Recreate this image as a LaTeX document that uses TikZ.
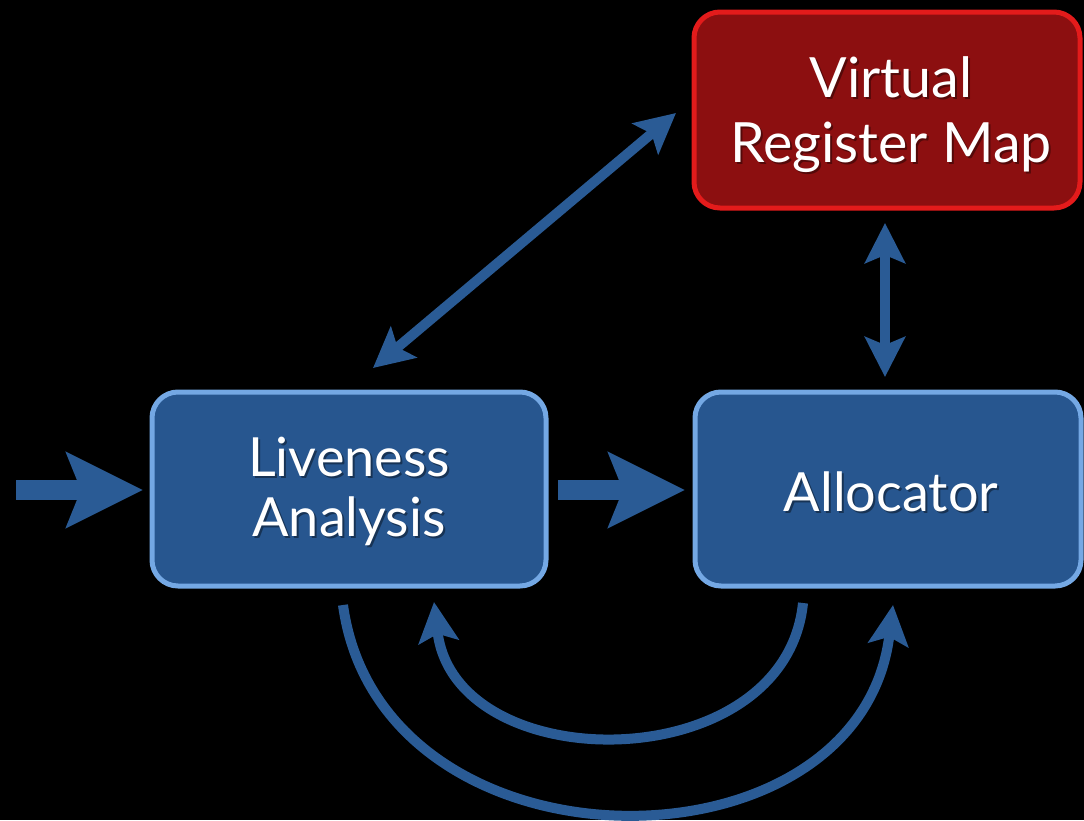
\documentclass[tikz,border=0pt]{standalone}
\usepackage{fontspec}
\setmainfont{Lato}
\usetikzlibrary{arrows.meta}
\definecolor{boxfill}{HTML}{27568F}
\definecolor{boxline}{HTML}{74A8E4}
\definecolor{redfill}{HTML}{8C0F10}
\definecolor{redline}{HTML}{E31B1B}
\definecolor{arrowc}{HTML}{2A5B95}
\tikzset{bt/.tip={Stealth[length=40pt, width=40pt, inset=8pt]}}
\begin{document}
\begin{tikzpicture}[x=1pt,y=-1pt,
  bluebox/.style={draw=boxline, fill=boxfill, line width=5pt, rounded corners=26pt,
    minimum height=194pt, inner sep=0pt},
  redbox/.style={draw=redline, fill=redfill, line width=5pt, rounded corners=26pt,
    minimum height=196pt, minimum width=386pt, inner sep=0pt},
  lbl/.style={text=white, align=center, inner sep=0pt, font=\fontsize{54}{60}\selectfont},
  lblshadow/.style={lbl, text=black, opacity=0.4},
  blockarrow/.style={draw=arrowc, line width=20pt, -{Stealth[length=76pt, width=74pt, inset=14pt]}},
  thinarrow/.style={draw=arrowc, line width=10pt}
]
\fill[black] (0,0) rectangle (1084,820);
\useasboundingbox (0,0) rectangle (1084,820);

% boxes
\node[bluebox, minimum width=394pt] (liv) at (349,489) {};
\node[bluebox, minimum width=386pt] (alloc) at (888,489) {};
\node[redbox] (vrm) at (887,110) {};

% labels with soft shadow
\node[lblshadow] (livsh) at (351,493) {Liveness\\Analysis};
\node[lbl] (livtxt) at (349,491) {Liveness\\Analysis};
\node[lblshadow] (allocsh) at (893,494) {Allocator};
\node[lbl] (alloctxt) at (891,492) {Allocator};
\node[lblshadow, font=\fontsize{55.5}{65}\selectfont] (vrmsh) at (893,117) {Virtual\\Register Map};
\node[lbl, font=\fontsize{55.5}{65}\selectfont] (vrmtxt) at (891,115) {Virtual\\Register Map};

% connector end points
\coordinate (inS) at (16,490);
\coordinate (livW) at (143,490);
\coordinate (livE) at (558,490);
\coordinate (allocW) at (685,490);
\coordinate (livN) at (373,368);
\coordinate (vrmSW) at (676,113);
\coordinate (vrmS) at (885,223);
\coordinate (allocN) at (885,377);
\coordinate (livS) at (343,605);
\coordinate (allocSa) at (893,605);
\coordinate (allocS) at (803,603);
\coordinate (livSa) at (434,602);

% straight block arrows
\draw[blockarrow] (inS) -- (livW);
\draw[blockarrow] (livE) -- (allocW);

% double arrows
\draw[thinarrow, {bt}-{bt}] (livN) -- (vrmSW);
\draw[thinarrow, {bt}-{bt}] (vrmS) -- (allocN);

% curved arrows
\draw[thinarrow, -{bt}] (livS) .. controls (381,881) and (860,881) .. (allocSa);
\draw[thinarrow, -{bt}] (allocS) .. controls (785,780) and (455,780) .. (livSa);
\end{tikzpicture}
\end{document}
